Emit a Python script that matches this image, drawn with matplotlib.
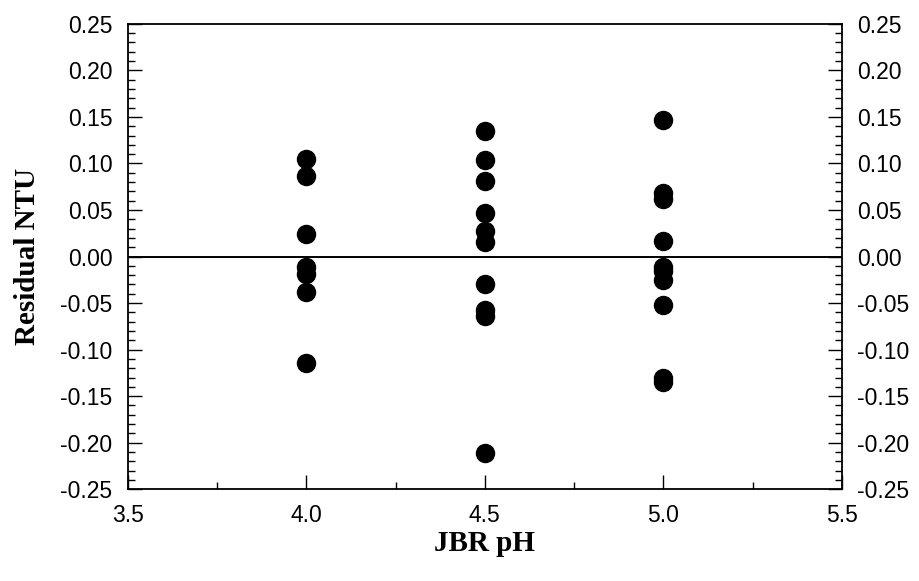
import numpy as np
import matplotlib.pyplot as plt
from matplotlib.ticker import MultipleLocator, FormatStrFormatter

plt.rcParams['font.family'] = ['Liberation Sans', 'DejaVu Sans']

# residuals, grouped by pH level
ph_levels = [4.0, 4.5, 5.0]
res_40 = [0.105, 0.086, 0.024, -0.011, -0.019, -0.038, -0.114]
res_45 = [0.135, 0.104, 0.081, 0.047, 0.027, 0.016, -0.030, -0.057, -0.064, -0.211]
res_50 = [0.147, 0.068, 0.062, 0.017, -0.011, -0.016, -0.025, -0.052, -0.131, -0.135]

fig = plt.figure(figsize=(9.19, 5.81), dpi=100)
ax = fig.add_axes([0.139, 0.158, 0.777, 0.801])

for ph, res in zip(ph_levels, [res_40, res_45, res_50]):
    ax.plot([ph]*len(res), res, 'ko', markersize=13)

ax.axhline(0, color='k', linewidth=1.4)

ax.set_xlim(3.5, 5.5)
ax.set_ylim(-0.25, 0.25)
ax.xaxis.set_major_locator(MultipleLocator(0.5))
ax.xaxis.set_minor_locator(MultipleLocator(0.25))
ax.yaxis.set_major_locator(MultipleLocator(0.05))
ax.yaxis.set_minor_locator(MultipleLocator(0.01))
ax.xaxis.set_major_formatter(FormatStrFormatter('%.1f'))
ax.yaxis.set_major_formatter(FormatStrFormatter('%.2f'))

ax.tick_params(which='both', direction='in', top=False, right=True,
               labelright=True, width=1)
ax.tick_params(which='major', length=10, labelsize=16.5, pad=11)
ax.tick_params(which='minor', length=5)
for s in ax.spines.values():
    s.set_linewidth(1.3)

ax.set_xlabel('JBR pH', family='Liberation Serif', fontweight='bold',
              fontsize=21)
ax.set_ylabel('Residual NTU', family='Liberation Serif', fontweight='bold',
              fontsize=21)
ax.xaxis.set_label_coords(0.5, -0.088)
ax.yaxis.set_label_coords(-0.122, 0.5)

fig.savefig('out.png', dpi=100)
